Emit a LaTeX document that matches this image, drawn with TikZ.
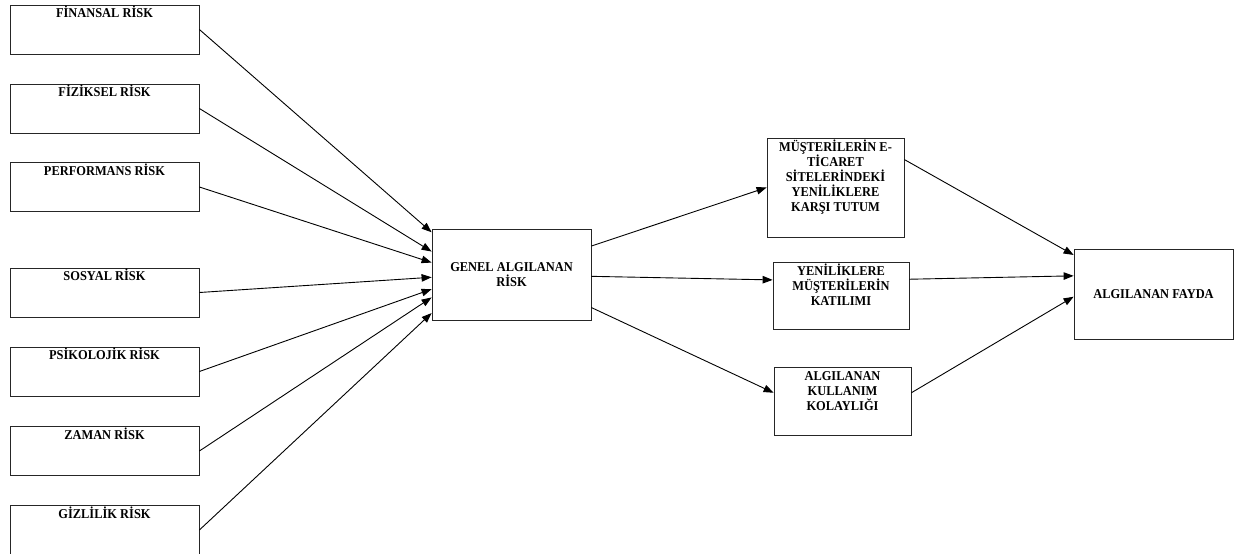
\documentclass[tikz,border=0pt]{standalone}
\usepackage{fontspec}
\setmainfont{Liberation Serif}
\newfontfamily\boxFamily{Liberation Serif}[FakeStretch=0.92]
\usetikzlibrary{positioning,arrows.meta,calc}
\newcommand\boxFont{\boxFamily\bfseries\fontsize{13.5pt}{15pt}\selectfont}
\tikzset{%
  riskBlock/.style={
    rectangle, draw=black!85, line width=0.8pt,
    minimum width=189pt, minimum height=49pt,
    label={[anchor=north, inner sep=1.5pt, font=\boxFont]north:#1}},
  topBlock/.style={
    rectangle, draw=black!85, line width=0.8pt,
    label={[anchor=north, inner sep=2.5pt, align=center, font=\boxFont]north:\vphantom{İ}#1}},
  midBlock/.style={
    rectangle, draw=black!85, line width=0.8pt,
    align=center, font=\boxFont},
  arrowThin/.style={-{Triangle[length=10pt,width=7.5pt]}, line width=0.9pt, black},
}
\begin{document}
\begin{tikzpicture}[x=1pt,y=-1pt]
  \useasboundingbox (0,0) rectangle (1240,554);
  % risk dimensions
  \node[riskBlock=FİNANSAL RİSK]   (finansal)   at (104.5,29.5) {};
  \node[riskBlock=FİZİKSEL RİSK]   (fiziksel)   at (104.5,108.5) {};
  \node[riskBlock=PERFORMANS RİSK] (performans) at (104.5,187) {};
  \node[riskBlock=SOSYAL RİSK]     (sosyal)     at (104.5,292.5) {};
  \node[riskBlock=PSİKOLOJİK RİSK] (psikolojik) at (104.5,371.5) {};
  \node[riskBlock=ZAMAN RİSK]      (zaman)      at (104.5,451) {};
  \node[riskBlock=GİZLİLİK RİSK]   (gizlilik)   at (104.5,530) {};

  \node[midBlock, minimum width=159pt, minimum height=91pt] (genel) at (511.5,274.5)
    {GENEL ALGILANAN\\RİSK};

  \node[topBlock={MÜŞTERİLERİN E-\\TİCARET\\SİTELERİNDEKİ\\YENİLİKLERE\\KARŞI TUTUM},
        minimum width=137pt, minimum height=99pt] (musteri) at (835.5,187.5) {};
  \node[topBlock={YENİLİKLERE\\MÜŞTERİLERİN\\KATILIMI},
        minimum width=136pt, minimum height=67pt] (katilim) at (841,295.5) {};
  \node[topBlock={ALGILANAN\\KULLANIM\\KOLAYLIĞI},
        minimum width=137pt, minimum height=68pt] (kolaylik) at (842.5,401) {};

  \node[midBlock, minimum width=159pt, minimum height=90pt] (fayda) at (1153.5,294)
    {ALGILANAN FAYDA};

  % connectors
  \foreach \src/\f in {finansal/0.04, fiziksel/0.25, performans/0.37, sosyal/0.53,
                       psikolojik/0.66, zaman/0.75, gizlilik/0.92}
    \draw[arrowThin] (\src.east) -- ($(genel.north west)!\f!(genel.south west)$);

  \draw[arrowThin] ($(genel.north east)!0.19!(genel.south east)$) -- (musteri.west);
  \draw[arrowThin] ($(genel.north east)!0.52!(genel.south east)$)
    -- ($(katilim.north west)!0.27!(katilim.south west)$);
  \draw[arrowThin] ($(genel.north east)!0.86!(genel.south east)$)
    -- ($(kolaylik.north west)!0.38!(kolaylik.south west)$);

  \draw[arrowThin] ($(musteri.north east)!0.22!(musteri.south east)$)
    -- ($(fayda.north west)!0.07!(fayda.south west)$);
  \draw[arrowThin] ($(katilim.north east)!0.26!(katilim.south east)$)
    -- ($(fayda.north west)!0.3!(fayda.south west)$);
  \draw[arrowThin] ($(kolaylik.north east)!0.38!(kolaylik.south east)$)
    -- ($(fayda.north west)!0.53!(fayda.south west)$);
\end{tikzpicture}
\end{document}
